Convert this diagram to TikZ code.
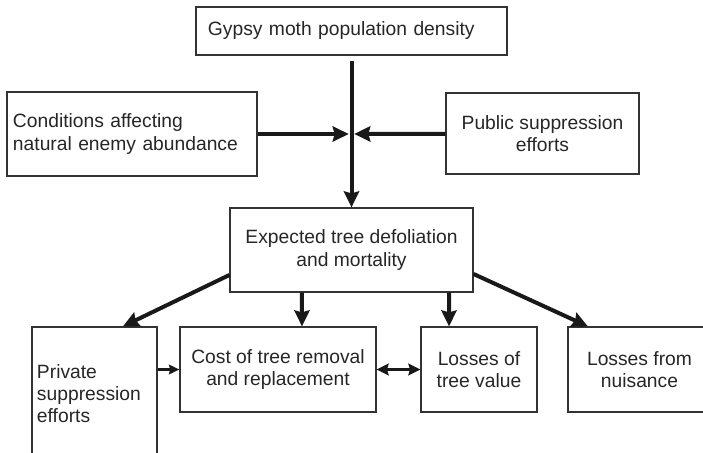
\documentclass[tikz,border=0pt]{standalone}
\usepackage{fontspec}
\setmainfont{Liberation Sans}
\usetikzlibrary{arrows.meta}

\begin{document}
\begin{tikzpicture}[
    x=0.25mm, y=-0.25mm,
    every node/.style={
        font=\fontsize{13.7}{15.8}\selectfont,
        text=black!85
    },
    box/.style={
        draw=black!80, line width=0.3mm,
        rectangle, inner sep=0pt,
        minimum height=21.25mm,
        align=center
    },
    flow/.style={
        draw=black!90, line width=1mm,
        -{Stealth[length=4mm,width=3.8mm,inset=0.5mm]}
    },
    shortflow/.style={
        draw=black!90, line width=0.95mm,
        -{Stealth[length=2.6mm,width=2.4mm,inset=0.3mm]}
    },
    twoflow/.style={
        draw=black!90, line width=0.9mm,
        {Stealth[length=3mm,width=2.9mm,inset=0.4mm]}-{Stealth[length=3mm,width=2.9mm,inset=0.4mm]}
    }
]
\useasboundingbox (0,0) rectangle (703,452);

\node[box, minimum height=12mm, text width=71.75mm, inner xsep=3mm, align=left] (gm) at (351.5,31) {Gypsy moth population density};
\node[box, minimum height=21mm, text width=59.5mm, inner xsep=1.5mm, align=left] (cond) at (132,134) {Conditions affecting\\natural enemy abundance};
\node[box, minimum width=48.25mm, minimum height=20.25mm] (pub) at (542.5,133.5) {Public suppression\\efforts};
\node[box, minimum width=60.75mm, minimum height=21mm] (exp) at (351.5,250) {Expected tree defoliation\\and mortality};
% bottom row, the outer two run past the edge
\node[box, minimum height=33.25mm, text width=28.75mm, inner xsep=1.25mm, align=left] (priv) at (94.5,393.5) {Private\\suppression\\efforts};
\node[box, minimum width=49mm] (cost) at (278,369.5) {Cost of tree removal\\and replacement};
\node[box, minimum width=29mm] (val) at (479,369.5) {Losses of\\tree value};
\node[box, minimum width=35.75mm] (nuis) at (639.5,369.5) {Losses from\\nuisance};
\coordinate (hub) at (351.5,134);

\draw[flow, shorten <=1.25mm] (gm) -- (exp);
\draw[flow, shorten >=0.7mm] (cond) -- (hub);
\draw[flow, shorten >=0.7mm] (pub) -- (hub);
\draw[flow] ([yshift=-6.25mm]exp.west) -- ([xshift=7.1mm]priv.north);
\draw[flow] ([yshift=-6mm]exp.east) -- ([xshift=-12.9mm]nuis.north);
\draw[flow] ([xshift=-12.4mm]exp.south) -- ([xshift=6mm]cost.north);
\draw[flow] ([xshift=24.4mm]exp.south) -- ([xshift=-7.5mm]val.north);
\draw[shortflow] (cost.west -| priv.east) -- (cost.west);
\draw[twoflow] (cost) -- (val);
\end{tikzpicture}
\end{document}
